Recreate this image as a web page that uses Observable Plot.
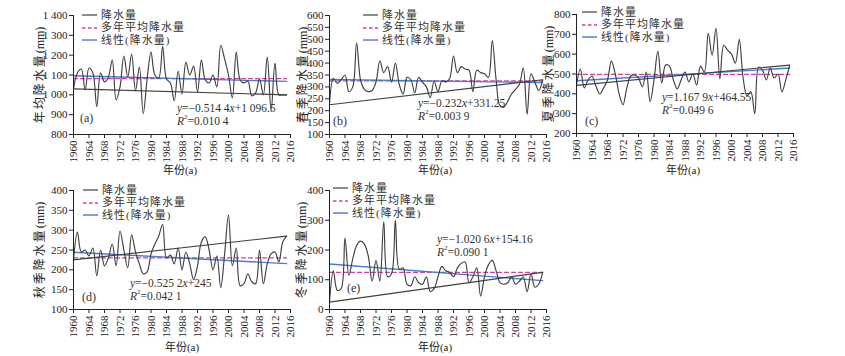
<!DOCTYPE html>
<html><head><meta charset="utf-8">
<script src="https://cdn.jsdelivr.net/npm/d3@7"></script>
<script src="https://cdn.jsdelivr.net/npm/@observablehq/plot@0.6"></script>
<style>
html,body{margin:0;padding:0;background:#fff;}
#root{position:relative;width:845px;height:356px;overflow:hidden;background:#fff;
 font-family:"Liberation Serif","Noto Sans CJK SC",serif;color:#222;}
#root svg{position:absolute;overflow:visible;}
.t{position:absolute;white-space:nowrap;line-height:1;}
.cjk{font-family:"Liberation Serif","Noto Sans CJK SC",serif;}
sup{font-size:7px;vertical-align:top;line-height:0;position:relative;top:1px;}
</style></head>
<body><div id="root"></div>
<script>
const years = d3.range(1960, 2016);
const xTicks = [1960,1964,1968,1972,1976,1980,1984,1988,1992,1996,2000,2004,2008,2012,2016];

const annual = [1030,1110,1130,1025,1135,1110,940,1110,1065,1090,
 1175,975,1040,1195,1090,1205,1020,1140,905,1080,
 1215,1100,1085,1245,1080,1060,970,1120,1005,1165,
 1100,1145,1015,1175,1075,1060,1100,1040,1250,1180,
 1100,985,1215,1075,1060,1070,995,1010,1080,1000,
 1190,920,1160,1000,1000,1000];
const spring = [225,335,315,330,350,280,300,485,330,290,
 280,285,320,410,360,385,320,400,310,270,
 340,330,275,340,320,300,255,325,280,325,
 320,335,430,360,385,375,370,280,370,360,
 355,340,495,330,220,215,240,270,290,310,
 380,185,355,320,285,330];
const summer = [443,525,430,470,490,440,400,430,470,565,
 500,400,345,430,490,495,480,435,510,360,
 470,615,455,545,540,470,425,470,510,460,
 500,445,540,510,705,595,730,475,645,620,
 600,555,675,480,390,410,300,535,520,470,
 530,480,500,410,470,545];
const autumn = [225,295,245,250,235,255,185,250,210,230,
 265,210,298,250,205,288,245,215,190,195,
 240,265,285,315,230,237,215,255,200,245,
 215,175,210,270,283,250,200,235,155,240,
 338,210,255,160,165,190,170,165,250,165,
 215,240,245,220,270,285];
const winter = [25,130,65,70,240,115,170,215,230,220,
 180,95,165,95,295,110,120,300,135,140,
 85,80,110,90,85,110,60,70,110,145,
 130,125,110,140,155,160,90,110,140,45,
 110,150,165,130,90,85,90,110,85,95,
 110,60,120,75,85,125];

const slopes = [-0.5144, -0.232, 1.1679, -0.5252, -1.0206];
const intercepts = [1096.5, 331.25, 464.55, 245, 154.16];
const means = [1082, 325, 498, 230, 125];
const yDomains = [[800,1400],[100,600],[200,800],[100,400],[0,400]];
const yTickStep = [100,50,100,50,100];
const yTitles = ["年均降水量(mm)","春季降水量(mm)","夏季降水量(mm)","秋季降水量(mm)","冬季降水量(mm)"];
const eqTexts = ["−0.514 4<i>x</i>+1 096.5","−0.232<i>x</i>+331.25","1.167 9<i>x</i>+464.55","−0.525 2<i>x</i>+245","−1.020 6<i>x</i>+154.16"];
const r2Texts = ["0.010 4","0.003 9","0.049 6","0.042 1","0.090 1"];
const tags = ["(a)","(b)","(c)","(d)","(e)"];
const legendLabels = ["降水量","多年平均降水量","线性(降水量)"];
const series = [annual, spring, summer, autumn, winter];

// layout (pixel placement only)
const layout = [
 {sx:0,   sy:0,   tx:40,  ty:75,  lx:82,  ly:15,  ex:177, ey:109, gx:80,  gy:118, xt:[180,170]},
 {sx:256, sy:0,   tx:303, ty:75,  lx:363, ly:15,  ex:418, ey:104, gx:333, gy:121, xt:[435,170]},
 {sx:503, sy:-1,  tx:549, ty:74,  lx:582, ly:12,  ex:662, ey:98,  gx:585, gy:121, xt:[683,170]},
 {sx:0,   sy:175, tx:40,  ty:250, lx:83,  ly:190, ex:130, ey:284, gx:82,  gy:297, xt:[182,347]},
 {sx:256, sy:175, tx:302, ty:250, lx:333, ly:188, ex:437, ey:240, gx:347, gy:288, xt:[435,347]}
];

const root = document.getElementById("root");
const C_LINE = "#404040", C_MEAN = "#d2409f", C_TREND = "#4a7bd0";
const fmt = d => d3.format(",")(d).replace(/,/g, " ");

function addText(html, x, y, css, cls) {
  const d = document.createElement("div");
  d.className = "t " + (cls || "");
  d.innerHTML = html;
  d.style.left = x + "px"; d.style.top = y + "px";
  Object.assign(d.style, css || {});
  root.appendChild(d);
  return d;
}

series.forEach((vals, k) => {
  const L = layout[k];
  const data = years.map((yr, i) => ({year: yr, v: vals[i]}));
  const n = data.length;
  const closing = [data[n - 1], data[0]];
  const trend = [{year: years[0], v: intercepts[k] + slopes[k] * 1},
                 {year: years[n - 1], v: intercepts[k] + slopes[k] * n}];
  const meanLine = [{year: years[0], v: means[k]}, {year: years[n - 1], v: means[k]}];
  const [y0, y1] = yDomains[k];
  const plot = Plot.plot({
    width: 300, height: 180,
    marginLeft: 73, marginRight: 10, marginTop: 15, marginBottom: 46,
    x: {domain: [1960, 2016], ticks: xTicks, tickFormat: d => String(d), tickRotate: -90, tickSize: 4, tickPadding: 2, label: null},
    y: {domain: yDomains[k], ticks: d3.range(y0, y1 + 1, yTickStep[k]), tickFormat: fmt, tickSize: 4, tickPadding: 2, label: null},
    style: {fontFamily: "Liberation Serif, serif", fontSize: "11px", background: "transparent", color: "#222", overflow: "visible"},
    marks: [
      Plot.line(meanLine, {x: "year", y: "v", stroke: C_MEAN, strokeWidth: 1.3, strokeDasharray: "4,3"}),
      Plot.line(trend, {x: "year", y: "v", stroke: C_TREND, strokeWidth: 1.4}),
      Plot.line(data, {x: "year", y: "v", stroke: C_LINE, strokeWidth: 1.15, curve: "catmull-rom"}),
      Plot.line(closing, {x: "year", y: "v", stroke: C_LINE, strokeWidth: 1.15}),
      Plot.ruleX([1960], {stroke: "#222", strokeWidth: 1}),
      Plot.ruleY([y0], {stroke: "#222", strokeWidth: 1})
    ]
  });
  plot.style.left = L.sx + "px";
  plot.style.top = L.sy + "px";
  root.appendChild(plot);

  addText(yTitles[k].replace("(mm)", "<span style='letter-spacing:0'>(mm)</span>"), L.tx, L.ty,
    {transform: "translate(-50%,-50%) rotate(-90deg)", fontSize: "12px", letterSpacing: "2px"}, "cjk");
  addText("年份(a)", L.xt[0], L.xt[1], {transform: "translate(-50%,-50%)", fontSize: "11px"}, "cjk");
  const styles = [
    `<line x1="0" y1="4" x2="15" y2="4" stroke="${C_LINE}" stroke-width="1.2"/>`,
    `<line x1="0" y1="4" x2="15" y2="4" stroke="${C_MEAN}" stroke-width="1.4" stroke-dasharray="3.5,2.5"/>`,
    `<line x1="0" y1="4" x2="15" y2="4" stroke="${C_TREND}" stroke-width="1.4"/>`
  ];
  legendLabels.forEach((lab, j) => {
    const yy = L.ly + j * 12.3;
    addText(`<svg width="15" height="8" style="position:relative;vertical-align:middle;margin-right:4px">${styles[j]}</svg><span style="vertical-align:middle">${lab}</span>`,
      L.lx, yy, {transform: "translate(0,-50%)", fontSize: "11px", letterSpacing: "1px", color: "#333"}, "cjk");
  });
  addText(`<i>y</i>=${eqTexts[k]}`, L.ex, L.ey, {transform: "translate(0,-50%)", fontSize: "11.5px", color: "#333"});
  addText(`<i>R</i><sup>2</sup>=${r2Texts[k]}`, L.ex, L.ey + 12.5, {transform: "translate(0,-50%)", fontSize: "11.5px", color: "#333"});
  addText(tags[k], L.gx, L.gy, {transform: "translate(0,-50%)", fontSize: "12px", color: "#333"});
});
</script></body></html>
